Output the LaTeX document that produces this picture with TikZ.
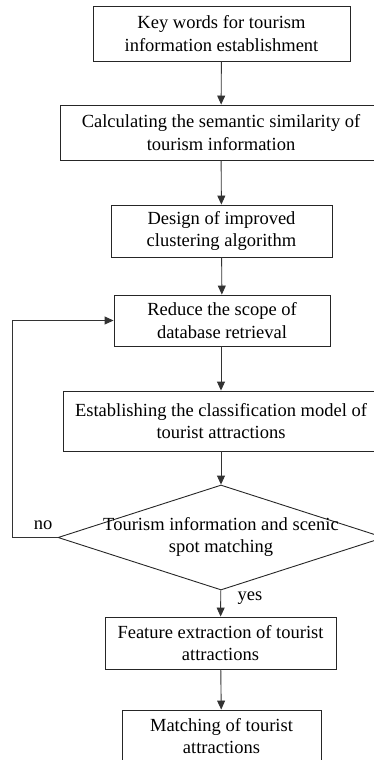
\documentclass[tikz,border=0pt]{standalone}
\usepackage{fontspec}
\setmainfont{Liberation Serif}
\usetikzlibrary{arrows.meta,shapes.geometric}
\begin{document}
\begin{tikzpicture}[x=1pt,y=-1pt,
  box/.style={draw=black!85,line width=0.9pt,rectangle,inner sep=0pt,align=center,
    font=\fontsize{18.5}{22.5}\selectfont},
  lbl/.style={font=\fontsize{18.5}{22.5}\selectfont,inner sep=0pt},
  arr/.style={draw=black!80,line width=0.9pt,-{Triangle[length=9pt,width=8pt]}}]
\useasboundingbox (0,0) rectangle (374,760);
\node[box,minimum width=257,minimum height=55] (b1) at (221.5,33.5) {Key words for tourism\\information establishment};
\node[box,minimum width=322,minimum height=55] (b2) at (221,132.5) {Calculating the semantic similarity of\\tourism information};
\node[box,minimum width=221,minimum height=52] (b3) at (221.5,231) {Design of improved\\clustering algorithm};
\node[box,minimum width=216,minimum height=51] (b4) at (222,320.5) {Reduce the scope of\\database retrieval};
\node[box,minimum width=316,minimum height=60] (b5) at (221,421) {Establishing the classification model of\\tourist attractions};
\node[diamond,draw=black!85,line width=0.9pt,inner sep=0pt,minimum width=326,minimum height=105] (dm) at (221,537.5) {};
\node[lbl,align=center] (dt) at (221,537) {Tourism information and scenic\\spot matching};
\node[box,minimum width=231,minimum height=52] (b6) at (220.5,643) {Feature extraction of tourist\\attractions};
\node[box,minimum width=199,minimum height=52] (b7) at (221.5,736) {Matching of tourist\\attractions};
\node[lbl] (no) at (43,525) {no};
\node[lbl] (yes) at (250,598) {yes};
\coordinate (fb) at (12,537.5);
\draw[arr] (b1) -- (b2);
\draw[arr] (b2) -- (b3);
\draw[arr] (b3) -- (b4);
\draw[arr] (b4.south -| b5.north) -- (b5);
\draw[arr] (b5) -- (dm);
\draw[arr] (dm) -- (b6);
\draw[arr] (b6) -- (b7);
\draw[arr] (dm.west) -- (fb) |- (b4.west);
\end{tikzpicture}
\end{document}
